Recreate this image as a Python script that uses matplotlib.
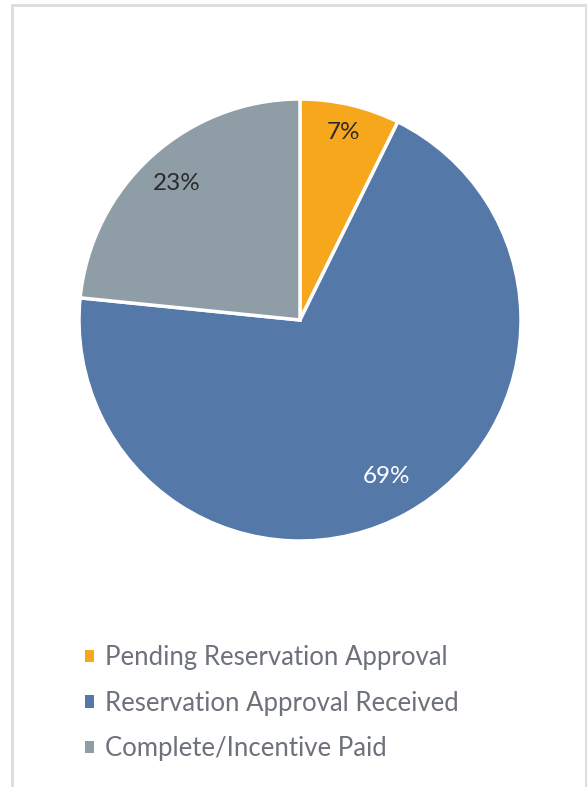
import matplotlib
matplotlib.use("Agg")
import matplotlib.pyplot as plt
from matplotlib.patches import Rectangle
import numpy as np

categories = ["Pending Reservation Approval", "Reservation Approval Received", "Complete/Incentive Paid"]
values = [7.3, 69.3, 23.4]
pct_labels = ["7%", "69%", "23%"]
colors = ["#F7A71C", "#5479A9", "#8E9DA6"]
label_colors = ["#2b2b2b", "#ffffff", "#2b2b2b"]
label_radius = [0.87, 0.81, 0.83]

W, H = 587, 787
fig = plt.figure(figsize=(W / 100, H / 100), dpi=100)
fig.patch.set_facecolor("white")

# frame
fig.add_artist(Rectangle((12 / W, -0.01), (586 - 12) / W, (H - 5) / H + 0.01,
                         transform=fig.transFigure, fill=False,
                         edgecolor="#dcdcdc", linewidth=2.0))

cx, cy, R = 300, 320, 221
ax = fig.add_axes([(cx - R) / W, 1 - (cy + R) / H, 2 * R / W, 2 * R / H])
wedges, _ = ax.pie(values, colors=colors, startangle=90, counterclock=False,
                   radius=1.0, wedgeprops=dict(edgecolor="white", linewidth=2.5))
ax.set_xlim(-1, 1)
ax.set_ylim(-1, 1)
ax.set_aspect("equal")
ax.axis("off")

for w, lab, col, r in zip(wedges, pct_labels, label_colors, label_radius):
    ang = np.deg2rad((w.theta1 + w.theta2) / 2)
    ax.text(r * np.cos(ang), r * np.sin(ang), lab, ha="center", va="center",
            fontsize=17.5, color=col, family=["Lato", "DejaVu Sans"])

leg = fig.legend(wedges, categories, loc="upper left",
                 bbox_to_anchor=(62 / W, 1 - 622 / H), frameon=False,
                 handlelength=0.36, handleheight=0.36, handletextpad=0.4,
                 labelspacing=0.8, prop=dict(family=["Lato", "DejaVu Sans"], size=18.5))
for t in leg.get_texts():
    t.set_color("#6c717a")
for h in leg.legend_handles:
    h.set_edgecolor("none")

fig.savefig("out.png", dpi=100, facecolor="white")
